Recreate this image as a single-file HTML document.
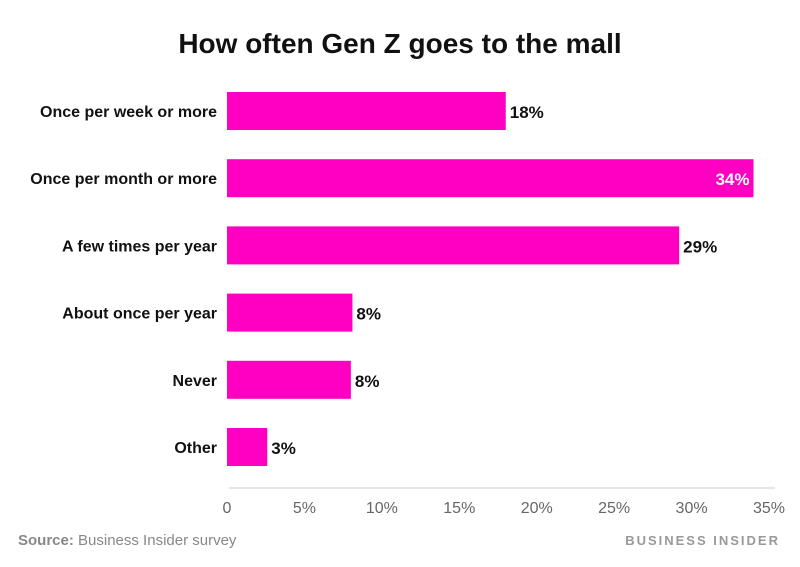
<!DOCTYPE html>
<html><head><meta charset="utf-8"><style>
body{margin:0;background:#fff;font-family:"Liberation Sans",sans-serif;}
svg{display:block}
</style></head><body>
<svg id="chart" width="800" height="567">
<text x="400" y="53" text-anchor="middle" font-size="28" font-weight="bold" fill="#111">How often Gen Z goes to the mall</text>
<line x1="229" y1="488" x2="775" y2="488" stroke="#ccc" stroke-width="1"/>
<g id="bars"></g>
<g id="ticks"></g>
<text x="18" y="545" font-size="15" fill="#888"><tspan font-weight="bold">Source:</tspan> Business Insider survey</text>
<text x="780" y="545" text-anchor="end" font-size="13" fill="#999" letter-spacing="2" font-weight="bold">BUSINESS INSIDER</text>
</svg>
<script>
const categories=["Once per week or more","Once per month or more","A few times per year","About once per year","Never","Other"];
const values=[18,34,29.2,8.1,8.0,2.6];
const labels=["18%","34%","29%","8%","8%","3%"];
const tickValues=[0,5,10,15,20,25,30,35];
const tickLabels=["0","5%","10%","15%","20%","25%","30%","35%"];
const NS="http://www.w3.org/2000/svg";
const x0=227,pxPer=(769-227)/35;
const xs=v=>x0+v*pxPer;
const ys=i=>111+i*67.2;
const bh=38;
const bars=document.getElementById('bars'),ticks=document.getElementById('ticks');
function mk(t,a){const e=document.createElementNS(NS,t);for(const k in a)e.setAttribute(k,a[k]);return e;}
categories.forEach((c,i)=>{
 const y=ys(i);
 const r=mk('rect',{x:x0,y:y-bh/2,width:xs(values[i])-x0,height:bh,fill:'#ff00c3'});
 
 
 bars.appendChild(r);
 const l=mk('text',{x:217,y:y+6,'text-anchor':'end','font-size':16,'font-weight':'bold',fill:'#111'});
 l.textContent=c;
 
 
 bars.appendChild(l);
 const inside=values[i]>32;
 const v=mk('text',{x:inside?xs(values[i])-4:xs(values[i])+4,y:y+7,'text-anchor':inside?'end':'start','font-size':17,'font-weight':'bold',fill:inside?'#fff':'#111'});
 v.textContent=labels[i];
 
 
 bars.appendChild(v);
});
tickValues.forEach((t,i)=>{
 const e=mk('text',{x:xs(t),y:513,'text-anchor':'middle','font-size':16,fill:'#666'});
 e.textContent=tickLabels[i];
 
 
 ticks.appendChild(e);
});
</script>
</body></html>
